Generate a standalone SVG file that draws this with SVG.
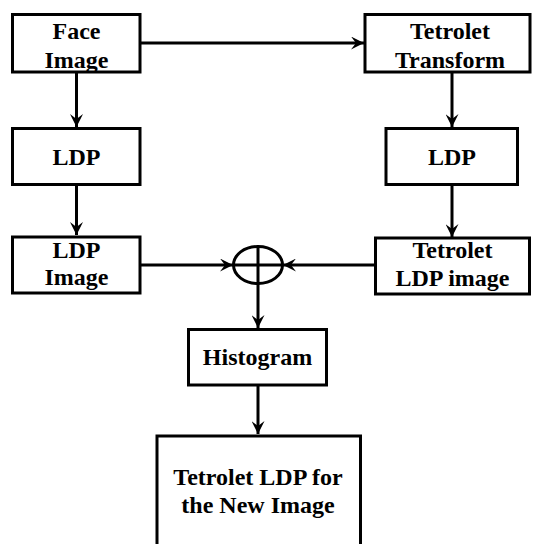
<svg xmlns="http://www.w3.org/2000/svg" width="533" height="544" viewBox="0 0 533 544">
<style>
.box{fill:#fff;stroke:#000;stroke-width:3}
.t{font-family:"Liberation Serif","Times New Roman",serif;font-weight:bold;font-size:24px;text-anchor:middle;fill:#000}
.c{stroke:#000;stroke-width:3;fill:none}
</style>
<defs>
<marker id="ah" viewBox="0 0 13 13" refX="13" refY="6.5" markerWidth="13" markerHeight="13" markerUnits="userSpaceOnUse" orient="auto">
<path d="M0,0 L13,6.5 L0,13 L5,6.5 Z" fill="#000"/>
</marker>
</defs>
<rect width="533" height="544" fill="#fff"/>
<g id="connectors">
<line class="c" x1="140" y1="43" x2="364" y2="43" marker-end="url(#ah)"/>
<line class="c" x1="76.5" y1="72" x2="76.5" y2="127" marker-end="url(#ah)"/>
<line class="c" x1="452" y1="72" x2="452" y2="127" marker-end="url(#ah)"/>
<line class="c" x1="76.5" y1="185" x2="76.5" y2="235" marker-end="url(#ah)"/>
<line class="c" x1="452" y1="185" x2="452" y2="237" marker-end="url(#ah)"/>
<line class="c" x1="140" y1="265" x2="233" y2="265" marker-end="url(#ah)"/>
<line class="c" x1="375" y1="265" x2="283" y2="265" marker-end="url(#ah)"/>
<line class="c" x1="258" y1="246.5" x2="258" y2="328" marker-end="url(#ah)"/>
<line class="c" x1="258" y1="386" x2="258" y2="434" marker-end="url(#ah)"/>
</g>
<g id="sum">
<ellipse class="c" cx="258" cy="265" rx="24.5" ry="18.5"/>
<line class="c" x1="233.5" y1="265" x2="282.5" y2="265"/>
</g>
<g id="face-image">
<rect class="box" x="12.5" y="14.5" width="127.5" height="57.5"/>
<text class="t" x="76.5" y="39">Face</text>
<text class="t" x="76.5" y="67.5">Image</text>
</g>
<g id="tetrolet-transform">
<rect class="box" x="365" y="14.5" width="165" height="57.5"/>
<text class="t" x="450" y="39">Tetrolet</text>
<text class="t" x="450" y="67.5">Transform</text>
</g>
<g id="ldp-left">
<rect class="box" x="12.5" y="128.5" width="127.5" height="56"/>
<text class="t" x="76.5" y="165">LDP</text>
</g>
<g id="ldp-right">
<rect class="box" x="386" y="128.5" width="131.5" height="56"/>
<text class="t" x="452" y="165">LDP</text>
</g>
<g id="ldp-image">
<rect class="box" x="12.5" y="237" width="127.5" height="56"/>
<text class="t" x="76.5" y="257.5">LDP</text>
<text class="t" x="76.5" y="285">Image</text>
</g>
<g id="tetrolet-ldp-image">
<rect class="box" x="375.5" y="238" width="154" height="56"/>
<text class="t" x="452.5" y="258">Tetrolet</text>
<text class="t" x="452.5" y="286">LDP image</text>
</g>
<g id="histogram">
<rect class="box" x="188.5" y="329.5" width="138" height="55.5"/>
<text class="t" x="257.5" y="364.5">Histogram</text>
</g>
<g id="result">
<rect class="box" x="157" y="436" width="203.5" height="120"/>
<text class="t" x="258" y="485">Tetrolet LDP for</text>
<text class="t" x="258" y="513">the New Image</text>
</g>
</svg>
